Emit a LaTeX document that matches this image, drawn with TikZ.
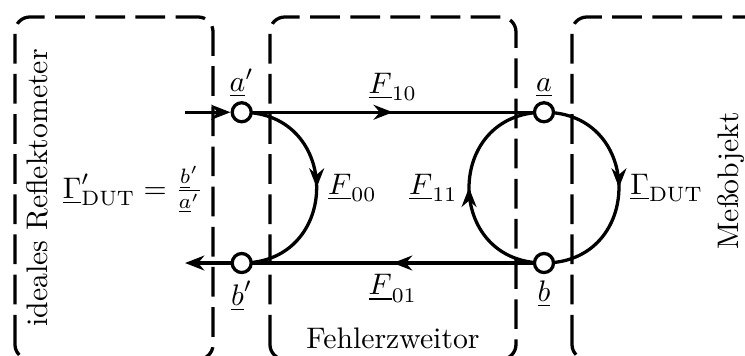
\documentclass[tikz,border=0pt]{standalone}
\usepackage{amsmath}
\usepackage{tikz}
\usetikzlibrary{arrows.meta, positioning, decorations.markings, backgrounds}

\begin{document}
\begin{tikzpicture}[
    port/.style={circle, draw, fill=white, minimum size=0.225cm, inner sep=0pt, line width=1.1pt},
    zone/.style={dash pattern=on 10pt off 3.5pt, rounded corners=5pt, line width=1.1pt},
    arr/.style={-{Stealth[length=6.5pt, width=5pt]}, line width=1.1pt},
    flow/.style={line width=1.1pt, postaction={decorate},
        decoration={markings, mark=at position 0.5 with {\arrow{Stealth[length=6.5pt, width=5pt]}}}},
    portlabel/.style={inner sep=1pt},
]
\useasboundingbox (0,0) rectangle (8.806,4.208);

% Gebiete
\draw[zone] (0.177,-0.04) rectangle (2.518,4.007);
\draw[zone] (3.191,-0.04) rectangle (6.099,4.007);
\draw[zone] (6.761,-0.04) rectangle (9.1,4.007);

\node[rotate=90] (refl) at (0.437,1.986) {ideales Reflektometer};
\node (gin) at (1.572,1.962) {$\underline{\Gamma}'_{\mathrm{DUT}} = \frac{\underline{b}'}{\underline{a}'}$};
\node[rotate=90] (dut) at (8.640,2.07) {Meßobjekt};
\node (fz) at (4.645,0.213) {Fehlerzweitor};

% Tore
\node[port] (ap) at (2.857,2.881) {};
\node[port] (bp) at (2.857,1.099) {};
\node[port] (a) at (6.430,2.881) {};
\node[port] (b) at (6.430,1.099) {};
\node[portlabel, above=0pt of ap] (apl) {$\underline{a}'$};
\node[portlabel, below=1pt of bp] (bpl) {$\underline{b}'$};
\node[portlabel, above=0pt of a] (al) {$\underline{a}$};
\node[portlabel, below=1pt of b] (bl) {$\underline{b}$};

\coordinate (in) at (2.187,2.881);
\coordinate (out) at (2.187,1.099);

\draw[arr] (in) -- (ap);
\draw[arr] (bp) -- (out);
\begin{pgfonlayer}{background}
\draw[flow] (ap.center) -- node[above] (f10) {$\underline{F}_{10}$} (a.center);
\draw[flow] (b.center) -- node[below] (f01) {$\underline{F}_{01}$} (bp.center);
\draw[flow] (ap.center) to[out=0, in=0, looseness=1.7] node[right] (f00) {$\underline{F}_{00}$} (bp.center);
\draw[flow] (b.center) to[out=180, in=180, looseness=1.7] node[left] (f11) {$\underline{F}_{11}$} (a.center);
\draw[flow] (a.center) to[out=0, in=0, looseness=1.7] node[right] (gdut) {$\underline{\Gamma}_{\mathrm{DUT}}$} (b.center);
\end{pgfonlayer}
\end{tikzpicture}
\end{document}
